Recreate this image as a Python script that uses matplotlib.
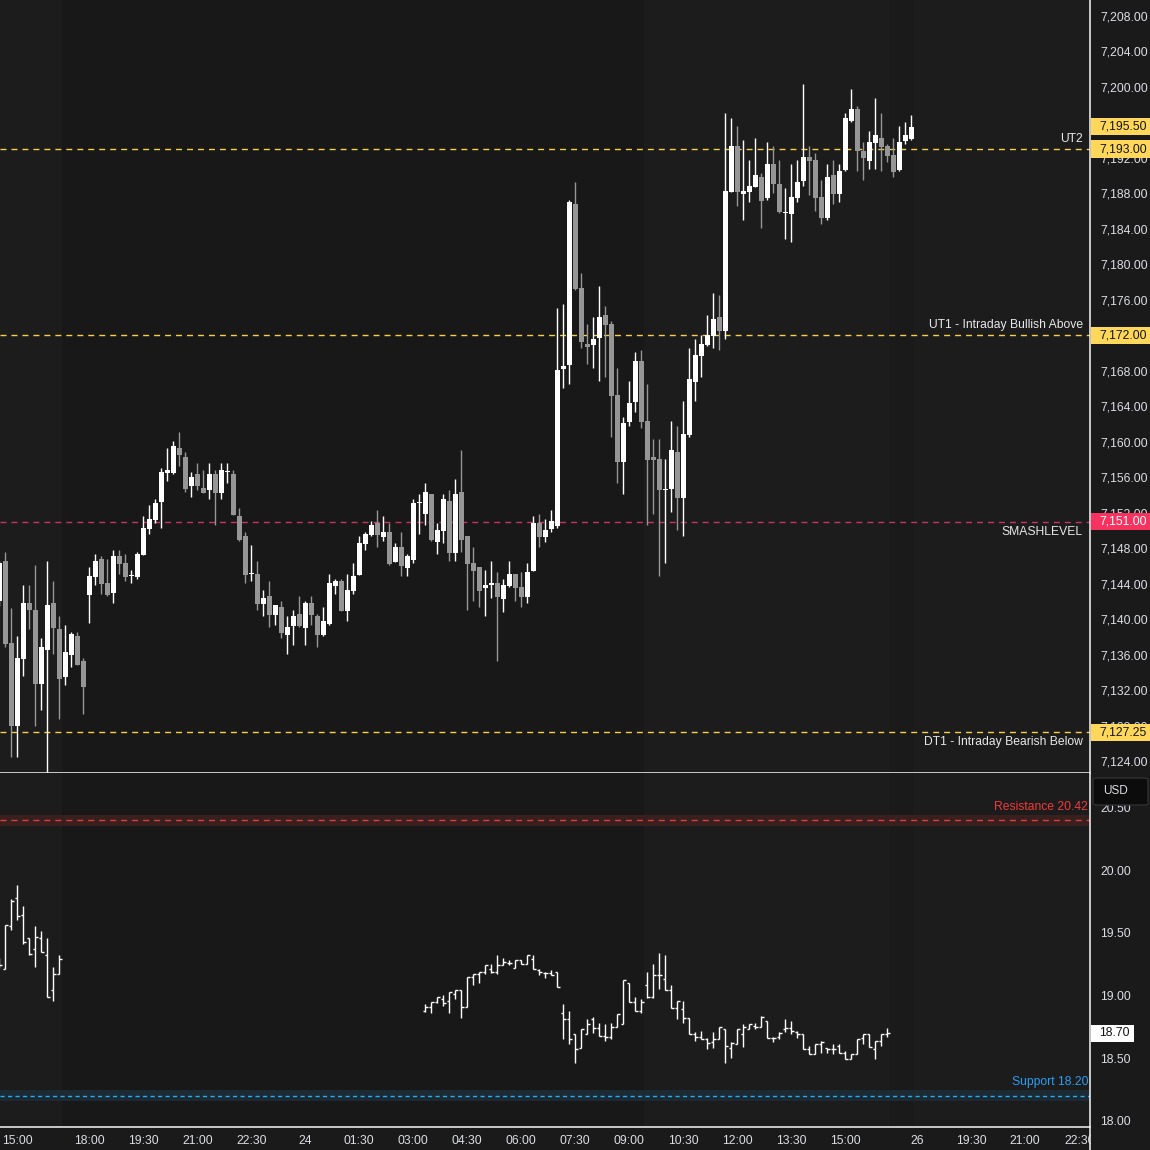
import numpy as np
import matplotlib
matplotlib.use("Agg")
import matplotlib.pyplot as plt
from matplotlib.patches import Rectangle, FancyBboxPatch
from matplotlib.transforms import blended_transform_factory
from matplotlib.lines import Line2D

plt.rcParams['font.family'] = ['Liberation Sans', 'DejaVu Sans']

# ---------------- data ----------------
# ES 10-minute candles; slot 0 = 15:00 (day 1); the 17:00-18:00 break is skipped
es_first_slot = -3
es_open = [7142.0, 7146.6, 7137.3, 7128.0, 7135.5, 7141.8, 7141.0, 7132.7, 7136.5, 7141.8, 7138.9, 7133.5, 7136.0, 7138.1, 7135.3,
           7142.7, 7144.8, 7146.8, 7144.1, 7143.0, 7147.1, 7146.3, 7144.9, 7144.8, 7147.2, 7150.2, 7151.2, 7153.2, 7156.5, 7156.5,
           7159.3, 7158.3, 7155.0, 7156.4, 7154.8, 7154.5, 7156.4, 7154.2, 7156.6, 7156.4, 7151.6, 7149.4, 7145.1, 7145.1, 7141.7,
           7142.6, 7140.5, 7141.4, 7138.2, 7139.2, 7140.6, 7139.0, 7141.8, 7140.4, 7138.2, 7139.5, 7143.7, 7144.3, 7140.9, 7143.2,
           7145.0, 7148.5, 7149.5, 7150.8, 7149.3, 7149.8, 7146.4, 7148.1, 7145.8, 7146.7, 7153.1, 7151.9, 7154.1, 7148.7, 7149.9,
           7153.3, 7147.5, 7154.3, 7149.4, 7146.3, 7145.9, 7143.5, 7143.9, 7144.1, 7142.3, 7143.7, 7145.1, 7143.6, 7142.5, 7145.4,
           7150.8, 7149.3, 7150.2, 7150.5, 7168.2, 7168.7, 7186.8, 7177.3, 7171.0, 7170.9, 7171.7, 7174.3, 7173.3, 7165.3, 7157.7,
           7162.2, 7164.5, 7169.1, 7162.3, 7158.3, 7158.1, 7154.6, 7154.7, 7158.8, 7153.7, 7160.8, 7166.7, 7169.7, 7170.9, 7171.9,
           7174.1, 7172.5, 7188.2, 7193.3, 7187.9, 7188.2, 7188.7, 7189.9, 7187.5, 7191.3, 7189.1, 7185.8, 7185.7, 7187.5, 7189.4,
           7192.1, 7191.8, 7187.6, 7185.2, 7190.1, 7187.9, 7190.6, 7196.2, 7197.5, 7192.8, 7191.7, 7193.7, 7194.2, 7193.3, 7192.3,
           7190.6, 7193.9, 7194.1]
es_high = [7146.6, 7147.6, 7141.3, 7138.1, 7143.9, 7143.9, 7146.1, 7137.9, 7146.6, 7144.3, 7140.4, 7139.3, 7138.6, 7138.6, 7135.6,
           7145.9, 7147.3, 7147.1, 7146.8, 7147.8, 7147.8, 7147.3, 7145.5, 7147.6, 7151.6, 7152.9, 7153.5, 7157.0, 7159.3, 7160.1,
           7161.1, 7158.8, 7156.6, 7157.6, 7156.8, 7157.6, 7156.8, 7157.6, 7157.6, 7156.8, 7152.5, 7149.8, 7148.4, 7146.6, 7143.3,
           7144.3, 7141.6, 7142.0, 7140.4, 7141.0, 7142.6, 7142.0, 7142.6, 7140.6, 7141.4, 7145.1, 7144.5, 7144.5, 7145.1, 7146.3,
           7149.4, 7149.8, 7151.1, 7152.3, 7151.6, 7150.8, 7148.6, 7149.8, 7147.3, 7153.5, 7154.1, 7155.4, 7154.1, 7150.8, 7154.1,
           7154.6, 7155.8, 7159.1, 7149.4, 7148.1, 7145.9, 7145.5, 7146.6, 7145.3, 7144.5, 7146.6, 7145.1, 7145.3, 7146.3, 7151.6,
           7151.9, 7151.3, 7152.3, 7175.1, 7175.5, 7187.3, 7189.3, 7179.0, 7173.3, 7174.1, 7177.6, 7175.3, 7173.6, 7168.3, 7162.8,
           7166.8, 7170.1, 7170.3, 7166.5, 7160.3, 7160.3, 7158.1, 7162.3, 7161.8, 7164.6, 7170.6, 7171.6, 7172.0, 7174.3, 7176.8,
           7176.5, 7197.1, 7196.5, 7195.6, 7194.0, 7191.8, 7194.2, 7190.3, 7193.8, 7193.3, 7191.8, 7188.6, 7191.3, 7191.8, 7200.3,
           7193.3, 7192.6, 7189.5, 7191.3, 7191.8, 7191.3, 7197.1, 7199.8, 7197.9, 7193.8, 7195.0, 7198.8, 7197.1, 7193.6, 7194.2,
           7195.6, 7196.1, 7196.8]
es_low = [7141.5, 7136.9, 7124.4, 7124.4, 7133.6, 7138.9, 7127.9, 7129.7, 7121.0, 7136.1, 7128.7, 7132.6, 7134.6, 7134.8, 7129.3,
          7139.6, 7143.9, 7142.8, 7142.6, 7141.8, 7145.1, 7144.3, 7144.1, 7144.5, 7147.2, 7149.6, 7150.8, 7150.3, 7155.6, 7156.4,
          7157.3, 7154.3, 7153.8, 7154.6, 7154.2, 7153.5, 7150.6, 7153.5, 7155.4, 7151.7, 7148.8, 7144.1, 7144.3, 7141.0, 7140.4,
          7139.1, 7139.3, 7137.9, 7136.1, 7137.1, 7139.1, 7137.1, 7139.3, 7136.9, 7138.1, 7139.3, 7142.8, 7140.9, 7139.8, 7142.8,
          7145.0, 7147.8, 7149.4, 7148.1, 7148.8, 7146.1, 7146.4, 7144.9, 7144.9, 7146.3, 7149.6, 7150.6, 7148.8, 7147.3, 7148.6,
          7146.6, 7146.6, 7147.6, 7141.0, 7142.0, 7141.4, 7140.4, 7142.4, 7135.3, 7140.8, 7143.6, 7142.0, 7141.4, 7141.8, 7145.4,
          7148.1, 7148.7, 7149.8, 7150.3, 7166.1, 7166.5, 7177.1, 7170.6, 7168.8, 7168.3, 7166.8, 7167.3, 7160.5, 7155.4, 7154.1,
          7161.8, 7163.4, 7161.6, 7150.6, 7151.9, 7144.9, 7146.3, 7152.1, 7150.1, 7149.4, 7160.5, 7164.6, 7167.3, 7170.8, 7170.6,
          7170.3, 7171.6, 7188.2, 7186.6, 7185.0, 7187.0, 7188.7, 7184.1, 7187.3, 7188.0, 7185.8, 7182.9, 7182.5, 7187.0, 7188.8,
          7187.8, 7186.0, 7184.6, 7185.0, 7186.8, 7187.0, 7190.5, 7196.1, 7190.5, 7189.5, 7190.8, 7190.8, 7190.5, 7191.5, 7189.9,
          7190.5, 7193.6, 7194.0]
es_close = [7146.3, 7137.2, 7128.0, 7135.6, 7141.8, 7141.0, 7132.7, 7136.9, 7141.6, 7139.0, 7133.3, 7136.3, 7138.3, 7134.8, 7132.3,
            7144.9, 7146.6, 7144.0, 7142.7, 7147.1, 7146.2, 7144.8, 7144.9, 7147.3, 7150.3, 7151.3, 7153.1, 7156.6, 7156.8, 7159.5,
            7158.5, 7154.7, 7156.0, 7155.0, 7154.2, 7156.4, 7154.2, 7156.8, 7156.6, 7151.7, 7148.9, 7145.0, 7145.1, 7141.7, 7142.4,
            7140.5, 7141.6, 7138.4, 7139.1, 7140.4, 7139.2, 7141.8, 7140.5, 7138.2, 7139.8, 7144.1, 7144.3, 7140.9, 7143.3, 7144.9,
            7148.6, 7149.6, 7150.6, 7149.5, 7149.8, 7146.2, 7148.1, 7146.0, 7147.1, 7153.1, 7153.1, 7154.3, 7148.9, 7150.1, 7153.5,
            7147.5, 7154.1, 7148.9, 7146.2, 7145.4, 7143.2, 7143.9, 7143.9, 7142.5, 7143.9, 7145.1, 7143.5, 7142.5, 7145.3, 7150.8,
            7149.3, 7150.1, 7151.1, 7168.1, 7168.5, 7187.0, 7177.2, 7171.2, 7170.7, 7171.6, 7174.1, 7173.2, 7165.2, 7157.7, 7162.1,
            7164.4, 7169.1, 7162.2, 7157.9, 7157.9, 7154.5, 7154.6, 7159.1, 7153.7, 7160.9, 7167.1, 7169.8, 7171.0, 7172.0, 7173.8,
            7172.5, 7188.3, 7193.3, 7188.2, 7188.3, 7188.8, 7190.1, 7187.1, 7191.3, 7189.0, 7185.9, 7185.8, 7187.6, 7189.3, 7192.1,
            7191.7, 7187.5, 7185.2, 7189.9, 7187.9, 7190.5, 7196.5, 7197.5, 7192.8, 7192.0, 7193.8, 7194.6, 7193.2, 7192.2, 7190.4,
            7193.8, 7194.6, 7195.5]

# VIX (lower pane), two sessions
vix_a_first_slot = -3
vix_a_open = [19.26, 19.21, 19.55, 19.78, 19.64, 19.46, 19.37, 19.46, 19.32, 19.04, 19.17]
vix_a_high = [19.30, 19.56, 19.77, 19.88, 19.71, 19.46, 19.55, 19.51, 19.46, 19.23, 19.32]
vix_a_low = [19.22, 19.21, 19.52, 19.60, 19.41, 19.32, 19.23, 19.35, 18.99, 18.96, 19.17]
vix_a_close = [19.24, 19.56, 19.75, 19.63, 19.43, 19.33, 19.47, 19.35, 18.99, 19.17, 19.29]

vix_b_first_slot = 68
vix_b_open = [18.88, 18.91, 18.95, 18.97, 18.96, 19.01, 19.04, 18.91, 19.15, 19.17, 19.19, 19.21, 19.19, 19.24, 19.26, 19.22,
              19.28, 19.25, 19.29, 19.20, 19.18, 19.18, 19.19,
              18.86, 18.81, 18.69, 18.58, 18.69, 18.81, 18.74, 18.68, 18.67, 18.75, 18.77, 19.10, 18.95, 18.88, 19.08, 18.99,
              19.16, 19.13, 19.04, 18.90, 18.89, 18.82, 18.69, 18.67, 18.65, 18.63, 18.65, 18.73, 18.58, 18.61, 18.69, 18.73,
              18.76, 18.75, 18.80, 18.66, 18.67, 18.73, 18.74, 18.71, 18.69, 18.57, 18.53, 18.61, 18.58, 18.57, 18.60, 18.54,
              18.49, 18.53, 18.66, 18.69, 18.57, 18.64, 18.69]
vix_b_high = [18.93, 18.95, 18.99, 19.00, 19.03, 19.04, 19.04, 19.15, 19.17, 19.19, 19.24, 19.25, 19.32, 19.30, 19.28, 19.28,
              19.28, 19.32, 19.32, 19.21, 19.19, 19.20, 19.19,
              18.93, 18.88, 18.69, 18.73, 18.81, 18.83, 18.78, 18.77, 18.78, 18.85, 19.12, 19.10, 18.99, 18.97, 19.19, 19.25,
              19.34, 19.32, 19.08, 18.96, 18.96, 18.82, 18.71, 18.72, 18.66, 18.71, 18.75, 18.73, 18.63, 18.73, 18.77, 18.77,
              18.78, 18.84, 18.80, 18.67, 18.71, 18.81, 18.80, 18.72, 18.69, 18.60, 18.61, 18.64, 18.58, 18.61, 18.61, 18.56,
              18.53, 18.65, 18.69, 18.69, 18.64, 18.69, 18.74]
vix_b_low = [18.87, 18.86, 18.94, 18.92, 18.86, 18.97, 18.82, 18.91, 19.08, 19.10, 19.17, 19.18, 19.17, 19.24, 19.24, 19.22,
             19.25, 19.25, 19.21, 19.16, 19.14, 19.16, 19.07,
             18.65, 18.61, 18.46, 18.58, 18.69, 18.70, 18.68, 18.64, 18.65, 18.75, 18.77, 18.95, 18.88, 18.86, 18.98, 18.98,
             19.05, 19.04, 18.90, 18.81, 18.78, 18.69, 18.64, 18.65, 18.57, 18.58, 18.65, 18.46, 18.50, 18.61, 18.59, 18.73,
             18.73, 18.75, 18.66, 18.63, 18.65, 18.71, 18.69, 18.66, 18.57, 18.53, 18.53, 18.54, 18.54, 18.53, 18.54, 18.49,
             18.49, 18.53, 18.61, 18.59, 18.49, 18.60, 18.67]
vix_b_close = [18.91, 18.95, 18.99, 18.94, 19.03, 19.04, 18.91, 19.15, 19.17, 19.19, 19.24, 19.19, 19.24, 19.27, 19.26, 19.28,
               19.25, 19.32, 19.21, 19.19, 19.18, 19.16, 19.07,
               18.81, 18.65, 18.57, 18.73, 18.77, 18.74, 18.68, 18.67, 18.75, 18.85, 19.12, 18.95, 18.88, 18.95, 18.99, 19.16,
               19.16, 19.04, 18.90, 18.96, 18.82, 18.69, 18.67, 18.65, 18.62, 18.65, 18.75, 18.60, 18.62, 18.73, 18.75, 18.77,
               18.75, 18.83, 18.66, 18.66, 18.70, 18.74, 18.72, 18.69, 18.57, 18.53, 18.61, 18.63, 18.57, 18.57, 18.54, 18.49,
               18.53, 18.65, 18.69, 18.59, 18.64, 18.69, 18.70]

# key levels
es_levels = [7193.00, 7172.00, 7151.00, 7127.25]
es_level_names = ["UT2", "UT1 - Intraday Bullish Above", "SMASHLEVEL", "DT1 - Intraday Bearish Below"]
last_price = 7195.50
vix_resistance = 20.42
vix_support = 18.20
vix_last = 18.70

time_tick_slots = [0, 12, 21, 30, 39, 48, 57, 66, 75, 84, 93, 102, 111, 120, 129, 138, 150, 159, 168, 177]
time_tick_labels = ["15:00", "18:00", "19:30", "21:00", "22:30", "24", "01:30", "03:00", "04:30", "06:00",
                    "07:30", "09:00", "10:30", "12:00", "13:30", "15:00", "26", "19:30", "21:00", "22:30"]
# background session spans (slots)
rth_spans = [(-10, 7.5), (104.5, 145.5), (149.5, 200)]
post_spans = [(145.5, 149.5)]

# ---------------- figure ----------------
W = H = 1150
BG = '#181818'
RTH_BG = '#1c1c1c'
TXT = '#dcdee4'
fig = plt.figure(figsize=(11.5, 11.5), dpi=100, facecolor='#1a1a1a')


def fx(px):
    return px / W


def fy(py):
    return 1 - py / H


ax1 = fig.add_axes([0, fy(773), fx(1090), 773 / H])
ax2 = fig.add_axes([0, fy(1127), fx(1090), (1127 - 773) / H])

xmin, xmax = -2.88, 178.8
for ax in (ax1, ax2):
    ax.set_facecolor(BG)
    ax.set_xlim(xmin, xmax)
    for a, b in rth_spans:
        ax.axvspan(a, b, color=RTH_BG, lw=0, zorder=0)
    for a, b in post_spans:
        ax.axvspan(a, b, color='#1a1a1a', lw=0, zorder=0)
    for s in ('top', 'left'):
        ax.spines[s].set_visible(False)
    for s in ('right', 'bottom'):
        ax.spines[s].set_color('#e6e6e6')
        ax.spines[s].set_linewidth(1.2)
    ax.tick_params(axis='y', left=False, labelleft=False, right=True, labelright=True,
                   length=0, pad=7.5, labelcolor=TXT, labelsize=8.7)

ax1.set_ylim(7122.65, 7209.8)
ax2.set_ylim(17.952, 20.773)
ax1.set_xticks([])
ax1.set_yticks(np.arange(7124, 7209, 4))
ax1.yaxis.set_major_formatter(plt.FuncFormatter(lambda v, p: f"{v:,.2f}"))
ax2.set_yticks(np.arange(18.0, 20.51, 0.5))
ax2.yaxis.set_major_formatter(plt.FuncFormatter(lambda v, p: f"{v:.2f}"))
ax2.set_xticks(time_tick_slots)
ax2.set_xticklabels(time_tick_labels)
ax2.tick_params(axis='x', length=0, pad=6, labelcolor=TXT, labelsize=8.7)

# ---------------- candles ----------------
o = np.array(es_open); h = np.array(es_high); l = np.array(es_low); c = np.array(es_close)
xs = np.arange(len(o)) + es_first_slot
up = c >= o
cols = np.where(up, '#ffffff', '#969696')
ax1.vlines(xs, l, h, colors=cols, lw=1.0, zorder=3)
body_lo = np.minimum(o, c)
body_h = np.maximum(np.abs(c - o), 0.12)
ax1.bar(xs, body_h, bottom=body_lo, width=0.8, color=cols, lw=0, zorder=4)

# levels
YEL = '#f7d04a'
for lvl in es_levels:
    col = '#c7355f' if lvl == 7151.00 else YEL
    ax1.axhline(lvl, color=col, lw=1.0, dashes=(4.3, 3.6), zorder=2)

trans_lbl = blended_transform_factory(ax1.transAxes, ax1.transData)
for lvl, name in zip(es_levels, es_level_names):
    below = name.startswith("SMASH") or name.startswith("DT1")
    ax1.annotate(name, xy=(1083 / 1090, lvl), xycoords=trans_lbl, xytext=(0, -3 if below else 3),
                 textcoords='offset points', ha='right', va='top' if below else 'bottom',
                 color='#e8e8e8', fontsize=8.7, zorder=6)

# ---------------- VIX bars ----------------
def draw_ohlc(ax, first, op, hi, lo, cl):
    op = np.array(op); hi = np.array(hi); lo = np.array(lo); cl = np.array(cl)
    x = np.arange(len(op)) + first
    ax.vlines(x, lo, hi, colors='white', lw=1.0, zorder=3)
    ax.hlines(op, x - 0.4, x, colors='white', lw=1.0, zorder=3)
    ax.hlines(cl, x, x + 0.4, colors='white', lw=1.0, zorder=3)


draw_ohlc(ax2, vix_a_first_slot, vix_a_open, vix_a_high, vix_a_low, vix_a_close)
draw_ohlc(ax2, vix_b_first_slot, vix_b_open, vix_b_high, vix_b_low, vix_b_close)

ax2.axhspan(vix_resistance - 0.07, vix_resistance + 0.02, color='#3a1f1f', lw=0, zorder=1)
ax2.axhline(vix_resistance - 0.025, color='#d9413d', lw=1.0, dashes=(4.3, 3.6), zorder=2)
ax2.axhspan(vix_support - 0.04, vix_support + 0.045, color='#1c2a33', lw=0, zorder=1)
ax2.axhline(vix_support, color='#2aaaf0', lw=1.0, dashes=(3.0, 2.4), zorder=2)
trans_lbl2 = blended_transform_factory(ax2.transAxes, ax2.transData)
ax2.annotate(f"Resistance {vix_resistance:.2f}", xy=(1088 / 1090, vix_resistance), xycoords=trans_lbl2,
             xytext=(0, 3), textcoords='offset points', ha='right', va='bottom', color='#f23a3a', fontsize=8.7)
ax2.annotate(f"Support {vix_support:.2f}", xy=(1088 / 1090, vix_support), xycoords=trans_lbl2,
             xytext=(0, 6), textcoords='offset points', ha='right', va='bottom', color='#2a9df4', fontsize=8.7)

# ---------------- price tags on the axis ----------------
def tag(ax, value, text, face, tcol, h_units, x0=1091, x1=1150):
    tr = blended_transform_factory(ax.transAxes, ax.transData)
    p = Rectangle((x0 / 1090, value - h_units / 2), (x1 - x0) / 1090, h_units, transform=tr,
                  facecolor=face, edgecolor='none', zorder=20, clip_on=False)
    ax.add_patch(p)
    ax.text(1099 / 1090, value, text, transform=tr, ha='left', va='center', color=tcol,
            fontsize=8.7, zorder=21, clip_on=False)


tag(ax1, last_price, f"{last_price:,.2f}", '#ffd75a', '#131313', 1.95)
for lvl in es_levels:
    if lvl == 7151.00:
        tag(ax1, lvl, f"{lvl:,.2f}", '#f7325f', '#ffffff', 1.95)
    else:
        tag(ax1, lvl, f"{lvl:,.2f}", '#ffd75a', '#131313', 1.95)
tag(ax2, vix_last, f"{vix_last:.2f}", '#ffffff', '#131313', 0.135, x0=1091, x1=1134)

# USD box
ax_h = 1127 - 773
usd = FancyBboxPatch((1093 / 1090, (1127 - 805) / ax_h), 55 / 1090, 27 / ax_h,
                     boxstyle='round,pad=0,rounding_size=0.004', transform=ax2.transAxes,
                     facecolor='#0c0c0c', edgecolor='#303030', lw=1, zorder=20, clip_on=False)
ax2.add_patch(usd)
ax2.text(1103 / 1090, (1127 - 791.5) / ax_h, "USD", transform=ax2.transAxes, color=TXT, fontsize=8.5,
         ha='left', va='center', zorder=21, clip_on=False)

# cover the clipped last time label beyond the price scale and extend the vertical separator
fig.add_artist(Rectangle((fx(1091), 0), 1 - fx(1091), fy(1128), transform=fig.transFigure,
                         facecolor='#1a1a1a', edgecolor='none', zorder=5))
fig.add_artist(Line2D([fx(1090), fx(1090)], [0, fy(1127)], transform=fig.transFigure,
                      color='#e6e6e6', lw=1.2, zorder=6))

fig.savefig("out.png", dpi=100, facecolor=fig.get_facecolor())
